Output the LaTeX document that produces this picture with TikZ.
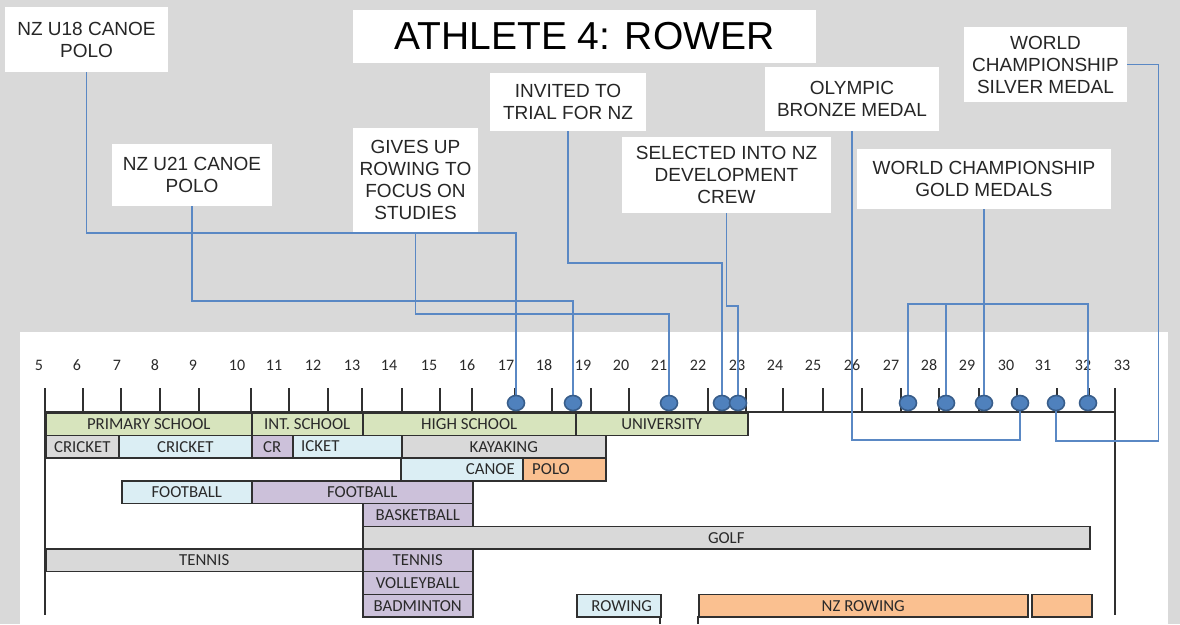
\documentclass[tikz,border=0pt]{standalone}
\usepackage{fontspec}
\setmainfont{Liberation Sans}
\newfontfamily\barfont{Carlito}
\usetikzlibrary{shapes.geometric}

\definecolor{cBg}{HTML}{D9D9D9}
\definecolor{cGreen}{HTML}{D7E4BD}
\definecolor{cGrey}{HTML}{D9D9D9}
\definecolor{cBlue}{HTML}{DBEEF4}
\definecolor{cPurple}{HTML}{CCC1DA}
\definecolor{cOrange}{HTML}{FAC090}
\definecolor{cLink}{HTML}{5A88C4}
\definecolor{cDot}{HTML}{4F81BD}
\definecolor{cDotEdge}{HTML}{385D8A}
\definecolor{cText}{HTML}{262626}
\definecolor{cBarText}{HTML}{2A2A2A}
\definecolor{cEdge}{HTML}{303030}

\pgfdeclarelayer{back}
\pgfdeclarelayer{links}
\pgfsetlayers{back,links,main}

% one bar of the timeline: name, start x, end x, row, fill, text
\newcommand\mkbar[6]{%
  \node[barbox, fill=#5, minimum width={#3pt-#2pt}, anchor=north west]
    (#1) at (#2, {412+22.7*(#4-1)}) {#6};}

\begin{document}
\begin{tikzpicture}[x=1pt, y=-1pt,
  label/.style={fill=white, text=cText, align=center, inner sep=0pt,
    font=\fontsize{19}{22}\selectfont},
  title/.style={fill=white, text=black, inner sep=0pt,
    font=\fontsize{39}{44}\selectfont},
  smalltext/.style={text=cBarText, font=\barfont\fontsize{16.8}{18}\selectfont},
  barbox/.style={smalltext, draw=cEdge, line width=1.5pt, rectangle, inner sep=0pt,
    minimum height=22.7pt},
  bartext/.style={smalltext, inner sep=0pt},
  num/.style={text=cBarText, inner sep=0pt, font=\barfont\fontsize{16}{18}\selectfont},
  axis/.style={draw=cEdge, line width=1.5pt},
  link/.style={draw=cLink, line width=1.3pt},
  dot/.style={ellipse, fill=cDot, draw=cDotEdge, line width=1.6pt,
    minimum width=17pt, minimum height=15pt, inner sep=0pt}]

\useasboundingbox (0,0) rectangle (1180,624);

\begin{pgfonlayer}{back}
\fill[cBg] (0,0) rectangle (1180,624);
\fill[white] (20,332) rectangle (1168,624);

% ---- activity bars ----
\mkbar{primary}{45}{251}{1}{cGreen}{PRIMARY SCHOOL}
\mkbar{inter}{251}{362}{1}{cGreen}{INT. SCHOOL}
\mkbar{high}{362}{575}{1}{cGreen}{HIGH SCHOOL}
\mkbar{uni}{575}{747}{1}{cGreen}{UNIVERSITY}

\mkbar{cricketA}{45}{118}{2}{cGrey}{CRICKET}
\mkbar{cricketB}{118}{251}{2}{cBlue}{CRICKET}
\mkbar{cricketC}{251}{292}{2}{cPurple}{CR}
\mkbar{cricketD}{292}{401}{2}{cBlue}{}
\mkbar{kayak}{401}{605}{2}{cGrey}{KAYAKING}
\node[bartext, anchor=west] (cricketDtxt) at (301,{412+22.7+11.35}) {ICKET};

\mkbar{canoe}{400}{522}{3}{cBlue}{}
\mkbar{polo}{522}{605}{3}{cOrange}{}
\node[bartext, anchor=east] (canoetxt) at (515,{412+2*22.7+11.35}) {CANOE};
\node[bartext, anchor=west] (polotxt) at (532,{412+2*22.7+11.35}) {POLO};

\mkbar{footA}{121}{251}{4}{cBlue}{FOOTBALL}
\mkbar{footB}{251}{472}{4}{cPurple}{FOOTBALL}
\mkbar{basket}{362}{472}{5}{cPurple}{BASKETBALL}
\mkbar{golf}{362}{1089}{6}{cGrey}{GOLF}
\mkbar{tennisA}{45}{362}{7}{cGrey}{TENNIS}
\mkbar{tennisB}{362}{472}{7}{cPurple}{TENNIS}
\mkbar{volley}{362}{472}{8}{cPurple}{VOLLEYBALL}
\mkbar{badminton}{362}{472}{9}{cPurple}{BADMINTON}
\mkbar{rowing}{576}{660}{9}{cBlue}{\hspace{6pt}ROWING}
\mkbar{nzrowing}{698}{1027}{9}{cOrange}{NZ ROWING}
\mkbar{nzrowingB}{1031}{1091}{9}{cOrange}{}

% edges of the next row, cut off at the bottom
\draw[axis] (660,616) -- (660,624);
\draw[axis] (698,616) -- (698,624);

% ---- age axis ----
\draw[axis] (45,412) -- (1115,412);
\draw[axis] (45,388) -- (45,615);
\draw[axis] (1115,388) -- (1115,615);
\foreach \x in {83,121,160,199,251,289,328,362,402,440,472,515,552,591,629,
  669,708,746,783,823,862,901,939,979,1017,1057,1089}
  \draw[axis] (\x,388) -- (\x,412);
\foreach \n/\x in {5/39,6/77,7/117,8/155,9/193,10/237,11/274,12/313,13/352,
  14/389,15/429,16/467,17/506,18/544,19/583,20/621,21/659,22/698,23/737,
  24/775,25/813,26/852,27/891,28/929,29/967,30/1006,31/1043,32/1083,33/1122}
  \node[num] (age\n) at (\x,365) {\n};
\end{pgfonlayer}

% ---- event boxes ----
\node[title, minimum width=463pt, minimum height=53pt] (title) at (584.5,36.5)
  {ATHLETE 4: ROWER};
\node[label, minimum width=163pt, minimum height=65pt] (u18) at (86.5,39.5)
  {NZ U18 CANOE\\POLO};
\node[label, minimum width=160pt, minimum height=62pt] (u21) at (192,175)
  {NZ U21 CANOE\\POLO};
\node[label, minimum width=125pt, minimum height=104pt] (gives) at (415.5,180)
  {GIVES UP\\ROWING TO\\FOCUS ON\\STUDIES};
\node[label, minimum width=156pt, minimum height=58pt] (invited) at (568,102)
  {INVITED TO\\TRIAL FOR NZ};
\node[label, minimum width=209pt, minimum height=76pt] (selected) at (726.5,175)
  {SELECTED INTO NZ\\DEVELOPMENT\\CREW};
\node[label, minimum width=174pt, minimum height=64pt] (olympic) at (852,99)
  {OLYMPIC\\BRONZE MEDAL};
\node[label, minimum width=254pt, minimum height=60pt] (gold) at (984,179)
  {WORLD CHAMPIONSHIP\\GOLD MEDALS};
\node[label, minimum width=163pt, minimum height=75pt] (silver) at (1045.5,64.5)
  {WORLD\\CHAMPIONSHIP\\SILVER MEDAL};

% ---- event markers on the axis ----
\node[dot] (eU18) at (516,403) {};
\node[dot] (eU21) at (573,403) {};
\node[dot] (eGives) at (669,403) {};
\node[dot] (eInvited) at (722,403) {};
\node[dot] (eSelected) at (738,403) {};
\node[dot] (eGoldA) at (908,403) {};
\node[dot] (eGoldB) at (946,403) {};
\node[dot] (eGoldC) at (984,403) {};
\node[dot] (eBronze) at (1020,403) {};
\node[dot] (eSilver) at (1056,403) {};
\node[dot] (eGoldD) at (1088,403) {};

% ---- connectors, kept under the markers ----
\coordinate (hU18) at (0,233);
\coordinate (hU21) at (0,301);
\coordinate (hGives) at (0,314);
\coordinate (hInvited) at (0,263);
\coordinate (hSelected) at (0,306);
\coordinate (hGold) at (0,304);
\coordinate (hLow) at (0,440);
\coordinate (silverCorner) at (1158.5,441);

\begin{pgfonlayer}{links}
\draw[link] (u18.south) -- (u18.south |- hU18) -| (eU18.north);
\draw[link] (u21.south) -- (u21.south |- hU21) -| (eU21.north);
\draw[link] (gives.south) -- (gives.south |- hGives) -| (eGives.north);
\draw[link] (invited.south) -- (invited.south |- hInvited) -| (eInvited.north);
\draw[link] (selected.south) -- (selected.south |- hSelected) -| (eSelected.north);
\draw[link] (gold.south) -- (eGoldC.north);
\draw[link] (eGoldA.north) |- (eGoldD.north |- hGold) -- (eGoldD.north);
\draw[link] (eGoldB.north) -- (eGoldB.north |- hGold);
\draw[link] (olympic.south) -- (olympic.south |- hLow) -| (eBronze.south);
\draw[link] (silver.east) -| (silverCorner) -| (eSilver.south);
\end{pgfonlayer}

\end{tikzpicture}
\end{document}
